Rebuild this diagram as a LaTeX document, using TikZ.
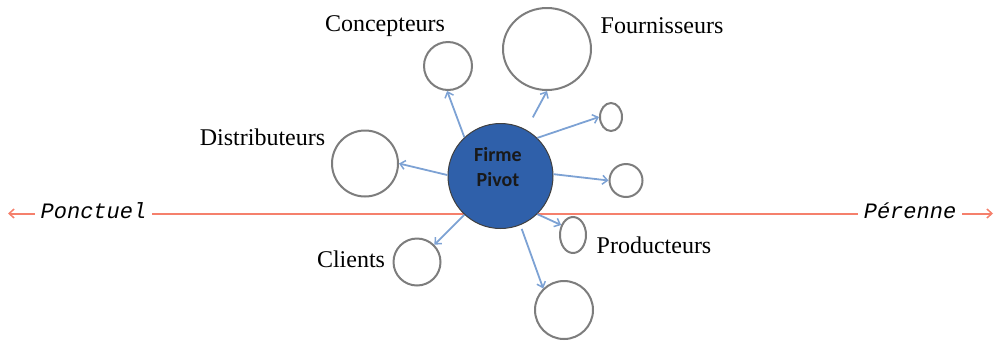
\documentclass[tikz,border=0pt]{standalone}
\usepackage{fontspec}
\setmainfont{Liberation Serif}
\newfontfamily\pivfont{Carlito}
\newfontfamily\axfont{Liberation Mono}
\usetikzlibrary{arrows.meta,shapes.geometric}
\definecolor{pivblue}{RGB}{47,96,170}
\definecolor{arrblue}{RGB}{125,162,212}
\definecolor{axorange}{RGB}{245,128,108}
\definecolor{satgray}{RGB}{125,125,125}
\tikzset{
  sat/.style={draw=satgray, line width=2pt, fill=white, inner sep=0pt},
  satc/.style={sat, circle, minimum size=#1},
  sate/.style n args={2}{sat, ellipse, minimum width=#1, minimum height=#2},
  arr/.style={draw=arrblue, line width=1.8pt, -{Straight Barb[length=5pt,width=9pt,line width=1.5pt]}},
  lbl/.style={font=\fontsize{24}{28}\selectfont, anchor=base, inner sep=0pt},
  axlbl/.style={font=\axfont\itshape\fontsize{22}{26}\selectfont, anchor=base, fill=white, inner xsep=6pt, inner ysep=4pt},
}
\begin{document}
\begin{tikzpicture}[x=1pt,y=-1pt]
\useasboundingbox (0,0) rectangle (1000,341);
% axis
\coordinate (axL) at (8,213.5);
\coordinate (axR) at (993,213.5);
\draw[draw=axorange, line width=2pt, {Straight Barb[length=5pt,width=9pt,line width=1.5pt]}-{Straight Barb[length=5pt,width=9pt,line width=1.5pt]}] (axL) -- (axR);
\node[axlbl] (ponc) at (93.5,218) {Ponctuel};
\node[axlbl] (pere) at (910,218) {Pérenne};
% satellites
\node[satc=48pt] (conc) at (448,66) {};
\node[sate={88pt}{82pt}] (four) at (547,49) {};
\node[sate={22pt}{28pt}] (s1) at (611,117) {};
\node[satc=33pt] (r1) at (626,180.5) {};
\node[sate={26pt}{36pt}] (prod) at (573,235) {};
\node[satc=58pt] (bot) at (564,310) {};
\node[satc=47pt] (cli) at (417,262) {};
\node[satc=66pt] (dist) at (365,163.5) {};
% pivot
\node[circle, minimum size=105pt, fill=pivblue, draw=black!75, line width=1pt, inner sep=0pt] (piv) at (500.5,176) {};
\node[font=\pivfont\bfseries\fontsize{20}{25}\selectfont, align=center, text=black!90, inner sep=0pt] (pivtxt) at (498,167) {Firme\\Pivot};
% arrows
\draw[arr] (piv.133) -- (conc.268);
\draw[arr, shorten <=14pt] (piv.61) -- (four.south);
\draw[arr] (piv.46) -- (s1.west);
\draw[arr] (piv.2) -- (r1.west);
\draw[arr] (piv.314) -- (prod.140);
\draw[arr, shorten <=4pt] (piv.292) -- (bot.134);
\draw[arr] (piv.227) -- (cli.45);
\draw[arr] (piv.179) -- (dist.east);
% labels
\node[lbl] (lconc) at (385,31) {Concepteurs};
\node[lbl] (lfour) at (662,33) {Fournisseurs};
\node[lbl] (ldist) at (262.5,145) {Distributeurs};
\node[lbl] (lcli) at (351,267) {Clients};
\node[lbl] (lprod) at (654,253) {Producteurs};
\end{tikzpicture}
\end{document}
